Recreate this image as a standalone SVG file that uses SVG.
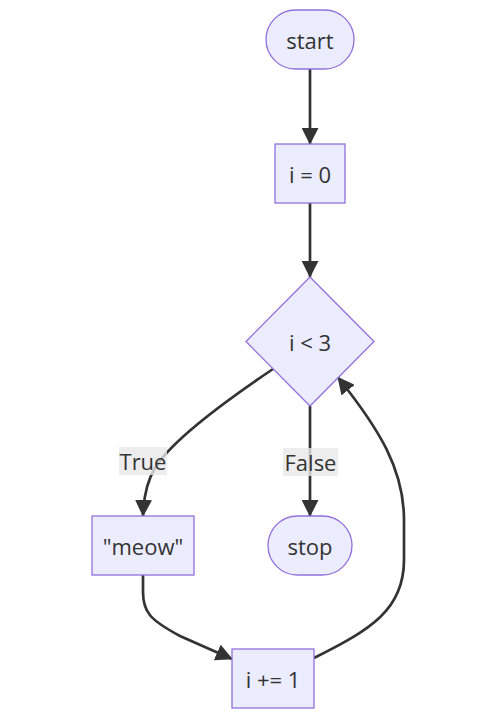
<svg xmlns="http://www.w3.org/2000/svg" width="501" height="727" viewBox="0 0 501 727">
<defs>
<marker id="arrow" viewBox="0 0 10 10" refX="9.5" refY="5" markerUnits="userSpaceOnUse" markerWidth="17" markerHeight="17" orient="auto">
<path d="M0,0 L10,5 L0,10 z" fill="#333333"/>
</marker>
<style>
.node rect, .node polygon { fill: #ECECFF; stroke: #9370DB; stroke-width: 1.3; }
.node text, .lbl text { font-family: "Open Sans", "Liberation Sans", Arial, sans-serif; font-size: 22px; fill: #333333; text-anchor: middle; dominant-baseline: central; }
.edge { fill: none; stroke: #333333; stroke-width: 2.7; marker-end: url(#arrow); }
.lbl rect { fill: #e8e8e8; fill-opacity: 0.8; }
</style>
</defs>
<rect width="501" height="727" fill="#ffffff"/>
<g id="edges">
<path class="edge" d="M310,69 L310,144"/>
<path class="edge" d="M310,203 L310,277"/>
<path class="edge" d="M310,406 L310,516"/>
<path class="edge" d="M273,369 Q175,435 155,468 Q144,486 143,516"/>
<path class="edge" d="M143,575 L143,592 C143,612 150,620 180,636 L232,659"/>
<path class="edge" d="M314,658 C370,630 404,610 404,560 L404,520 C404,470 380,430 338,377.5"/>
</g>
<g id="edge-labels">
<g class="lbl" id="label-true"><rect x="119" y="447" width="48" height="28"/><text x="143" y="461">True</text></g>
<g class="lbl" id="label-false"><rect x="283" y="448" width="55" height="28"/><text x="310.5" y="462">False</text></g>
</g>
<g class="node" id="start"><rect x="266" y="10" width="88" height="59" rx="29.5" ry="29.5"/><text x="310" y="40">start</text></g>
<g class="node" id="init"><rect x="275" y="144" width="70" height="59"/><text x="310" y="174">i = 0</text></g>
<g class="node" id="cond"><polygon points="310,277 374,341.5 310,406 246,341.5"/><text x="310" y="342">i &lt; 3</text></g>
<g class="node" id="meow"><rect x="92" y="516" width="102" height="59"/><text x="143" y="546">"meow"</text></g>
<g class="node" id="stop"><rect x="268" y="516" width="84" height="59" rx="29.5" ry="29.5"/><text x="310" y="546">stop</text></g>
<g class="node" id="inc"><rect x="232" y="649" width="82" height="59"/><text x="273" y="679">i += 1</text></g>
</svg>
